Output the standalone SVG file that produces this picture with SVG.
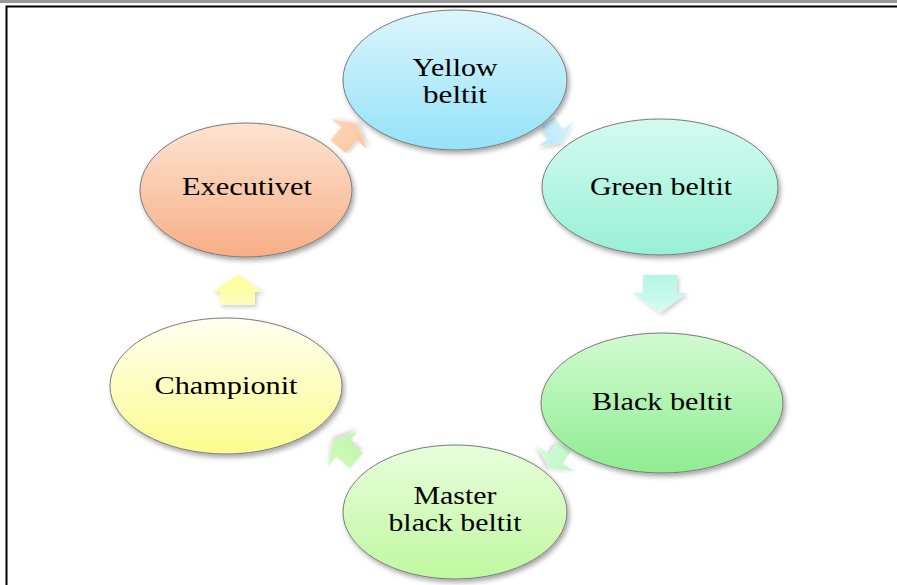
<svg xmlns="http://www.w3.org/2000/svg" width="897" height="585" viewBox="0 0 897 585">
<defs>
<filter id="sh" x="-10%" y="-10%" width="125%" height="130%">
<feDropShadow dx="2" dy="3" stdDeviation="2.5" flood-color="#000" flood-opacity="0.35"/>
</filter>
<filter id="ash" x="-30%" y="-30%" width="160%" height="160%">
<feDropShadow dx="2" dy="2" stdDeviation="2" flood-color="#000" flood-opacity="0.2"/>
</filter>
<linearGradient id="gY" x1="0" y1="0" x2="0" y2="1"><stop offset="0" stop-color="#dcf5fc"/><stop offset="1" stop-color="#94e2f8"/></linearGradient>
<linearGradient id="gG" x1="0" y1="0" x2="0" y2="1"><stop offset="0" stop-color="#d4fbef"/><stop offset="1" stop-color="#98f0d6"/></linearGradient>
<linearGradient id="gB" x1="0" y1="0" x2="0" y2="1"><stop offset="0" stop-color="#d2fad2"/><stop offset="1" stop-color="#8eed90"/></linearGradient>
<linearGradient id="gM" x1="0" y1="0" x2="0" y2="1"><stop offset="0" stop-color="#e8fddc"/><stop offset="1" stop-color="#c0f8a0"/></linearGradient>
<linearGradient id="gC" x1="0" y1="0" x2="0" y2="1"><stop offset="0" stop-color="#fffff2"/><stop offset="1" stop-color="#fbfb8e"/></linearGradient>
<linearGradient id="gE" x1="0" y1="0" x2="0" y2="1"><stop offset="0" stop-color="#fde4d2"/><stop offset="1" stop-color="#f7ae86"/></linearGradient>
<linearGradient id="aE" x1="0" y1="0" x2="0" y2="1"><stop offset="0" stop-color="#fdd8bc"/><stop offset="1" stop-color="#fbc49c"/></linearGradient>
<linearGradient id="aY" x1="0" y1="0" x2="0" y2="1"><stop offset="0" stop-color="#d8f3fc"/><stop offset="1" stop-color="#b4e8fa"/></linearGradient>
<linearGradient id="aG" x1="0" y1="0" x2="0" y2="1"><stop offset="0" stop-color="#b4f6e2"/><stop offset="1" stop-color="#d6fbf0"/></linearGradient>
<linearGradient id="aB" x1="0" y1="0" x2="0" y2="1"><stop offset="0" stop-color="#b8f8c4"/><stop offset="1" stop-color="#d4fbd8"/></linearGradient>
<linearGradient id="aM" x1="0" y1="0" x2="0" y2="1"><stop offset="0" stop-color="#d0fabc"/><stop offset="1" stop-color="#c0f6a8"/></linearGradient>
<linearGradient id="aC" x1="0" y1="0" x2="0" y2="1"><stop offset="0" stop-color="#fcfc92"/><stop offset="1" stop-color="#fefec0"/></linearGradient>
</defs>
<style>
.node ellipse{stroke:#7a7a7a;stroke-width:1;filter:url(#sh)}
.node text{font-family:"Liberation Serif","Times New Roman",serif;font-size:26px;fill:#000;text-anchor:middle}
.arr{filter:url(#ash);stroke:none}
</style>
<rect x="0" y="0" width="897" height="585" fill="#ffffff"/>
<rect x="0" y="0" width="897" height="3" fill="#999999"/>
<path d="M6.5,585 V6.5 H897" fill="none" stroke="#000" stroke-width="2"/>

<g id="connectors">
<path class="arr" fill="url(#aE)" transform="translate(347,136) rotate(-50)" d="M-14,-10 L3,-10 L3,-23 L16,0 L3,23 L3,10 L-14,10 Z"/>
<path class="arr" fill="url(#aY)" transform="translate(555,132) rotate(55)" d="M-13,-8 L2,-8 L2,-21 L13,0 L2,21 L2,8 L-13,8 Z"/>
<path class="arr" fill="url(#aG)" d="M643,275 H677 V293 H687 L660,313 L633,293 H643 Z"/>
<path class="arr" fill="url(#aB)" transform="translate(557,457) rotate(125)" d="M-13,-8 L2,-8 L2,-22 L13,0 L2,22 L2,8 L-13,8 Z"/>
<path class="arr" fill="url(#aM)" transform="translate(345,451) rotate(-140)" d="M-15,-10 L3,-10 L3,-23 L16,0 L3,23 L3,10 L-15,10 Z"/>
<path class="arr" fill="url(#aC)" d="M220,305 V292 H212 L238,275 L263,292 H255 V305 Z"/>
</g>

<g id="yellow" class="node">
<ellipse cx="455" cy="80" rx="112" ry="70" fill="url(#gY)"/>
<text x="455" y="76" textLength="85" lengthAdjust="spacingAndGlyphs">Yellow</text>
<text x="455" y="103" textLength="64" lengthAdjust="spacingAndGlyphs">beltit</text>
</g>
<g id="green" class="node">
<ellipse cx="660" cy="187" rx="118" ry="68" fill="url(#gG)"/>
<text x="661" y="195" textLength="142" lengthAdjust="spacingAndGlyphs">Green beltit</text>
</g>
<g id="black" class="node">
<ellipse cx="662" cy="403" rx="121" ry="70" fill="url(#gB)"/>
<text x="662" y="410" textLength="140" lengthAdjust="spacingAndGlyphs">Black beltit</text>
</g>
<g id="master" class="node">
<ellipse cx="455" cy="512" rx="112" ry="67" fill="url(#gM)"/>
<text x="455" y="504" textLength="83" lengthAdjust="spacingAndGlyphs">Master</text>
<text x="455" y="531" textLength="133" lengthAdjust="spacingAndGlyphs">black beltit</text>
</g>
<g id="championit" class="node">
<ellipse cx="226" cy="386" rx="116" ry="68" fill="url(#gC)"/>
<text x="226" y="394" textLength="143" lengthAdjust="spacingAndGlyphs">Championit</text>
</g>
<g id="executivet" class="node">
<ellipse cx="246" cy="190" rx="106" ry="67" fill="url(#gE)"/>
<text x="247" y="195" textLength="130" lengthAdjust="spacingAndGlyphs">Executivet</text>
</g>
</svg>
